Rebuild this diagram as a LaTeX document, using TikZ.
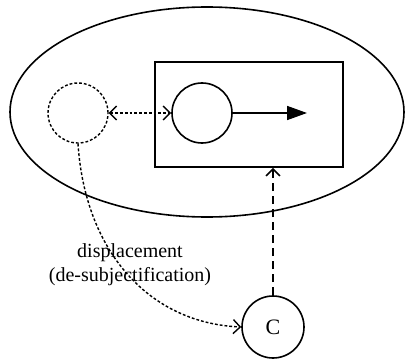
\documentclass[tikz,border=0pt]{standalone}
\usepackage{fontspec}
\setmainfont{Liberation Serif}
\usetikzlibrary{positioning,calc,fit,shapes.geometric,arrows.meta}

\tikzset{
    role/.style={circle, draw, minimum size=30pt, inner sep=0pt},
    dotline/.style={line width=0.7pt, dash pattern=on 1.4pt off 1pt},
    dashline/.style={dash pattern=on 4pt off 2.5pt},
    barb/.tip={Straight Barb[length=3.5pt,width=7pt]},
}

\begin{document}
\begin{tikzpicture}[x=0.5pt,y=-0.5pt,line width=0.8pt]
    \useasboundingbox (0,0) rectangle (406,358);

    \node[ellipse, draw, minimum width=197pt, minimum height=105pt, inner sep=0pt] (scene) at (207,112) {};

    \draw
        (155,62) coordinate (a)
        rectangle
        (343,167) coordinate (b);
    \node[fit=(a) (b), inner sep=0pt] (stage) {};

    \node[role, dotline] (ghost) at (78,113) {};
    \node[role] (actor) at (202,113) {};
    \node[role, minimum size=31pt, font=\fontsize{11}{13}\selectfont] (observer) at (273,327) {C};
    \coordinate (goal) at (307,113);

    \draw[-{Triangle[length=10pt,width=7pt]}] (actor) -- (goal);
    \draw[dotline, {barb}-{barb}] (ghost) -- (actor);
    \draw[dashline, -{barb}] (observer.north) -- (observer.north |- stage.south);

    \draw[dotline, -{barb}] (ghost.south)
        .. controls ($(ghost.south)+(7,108)$) and ($(observer.west)+(-92,-4)$) .. (observer.west);

    \node[align=center, font=\fontsize{10}{12}\selectfont] (shift) at (130,265) {displacement\\(de-subjectification)};
\end{tikzpicture}
\end{document}
